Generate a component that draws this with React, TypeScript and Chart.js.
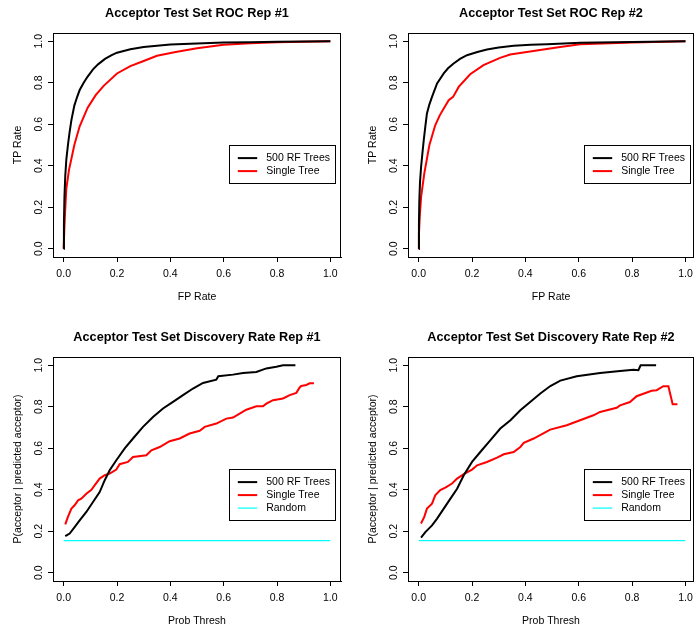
import React, { useEffect, useRef } from 'react';
import { Chart, registerables } from 'chart.js';

Chart.register(...registerables);

const FONT = "'Liberation Sans', Arial, Helvetica, sans-serif";

// ---------- shared labels / ticks ----------
const tickValues = [0, 0.2, 0.4, 0.6, 0.8, 1.0];
const seriesNames = ['500 RF Trees', 'Single Tree', 'Random'];

// ---------- ROC Rep #1 ----------
const roc1ForestFpr = [0, 0.001, 0.003, 0.006, 0.010, 0.016, 0.022, 0.029, 0.040, 0.050, 0.060, 0.075, 0.090, 0.110, 0.130, 0.155, 0.180, 0.200, 0.250, 0.300, 0.400, 0.500, 0.600, 0.700, 0.800, 1.000];
const roc1ForestTpr = [0, 0.12, 0.25, 0.35, 0.43, 0.50, 0.56, 0.62, 0.69, 0.73, 0.765, 0.80, 0.83, 0.865, 0.89, 0.915, 0.933, 0.945, 0.962, 0.972, 0.984, 0.989, 0.994, 0.996, 0.998, 1.0];
const roc1TreeFpr = [0, 0.002, 0.005, 0.010, 0.020, 0.030, 0.040, 0.060, 0.080, 0.090, 0.120, 0.150, 0.200, 0.250, 0.300, 0.350, 0.420, 0.500, 0.600, 0.700, 0.800, 1.000];
const roc1TreeTpr = [0, 0.08, 0.17, 0.29, 0.38, 0.44, 0.50, 0.59, 0.65, 0.68, 0.74, 0.785, 0.845, 0.88, 0.905, 0.93, 0.948, 0.966, 0.983, 0.99, 0.995, 1.0];

// ---------- ROC Rep #2 ----------
const roc2ForestFpr = [0, 0.001, 0.0025, 0.005, 0.009, 0.014, 0.019, 0.025, 0.031, 0.040, 0.050, 0.069, 0.094, 0.110, 0.131, 0.155, 0.181, 0.220, 0.256, 0.300, 0.356, 0.420, 0.481, 0.606, 0.800, 1.000];
const roc2ForestTpr = [0, 0.12, 0.233, 0.32, 0.394, 0.46, 0.523, 0.59, 0.652, 0.695, 0.732, 0.797, 0.845, 0.87, 0.893, 0.915, 0.933, 0.948, 0.96, 0.97, 0.978, 0.983, 0.986, 0.993, 0.997, 1.0];
const roc2TreeFpr = [0, 0.001, 0.004, 0.009, 0.021, 0.040, 0.062, 0.079, 0.094, 0.1125, 0.129, 0.150, 0.193, 0.243, 0.305, 0.343, 0.430, 0.530, 0.606, 0.800, 1.000];
const roc2TreeTpr = [0, 0.07, 0.153, 0.249, 0.362, 0.499, 0.595, 0.643, 0.676, 0.716, 0.732, 0.78, 0.841, 0.885, 0.92, 0.936, 0.953, 0.973, 0.986, 0.994, 1.0];

// ---------- Discovery Rate Rep #1 ----------
const dr1ForestThresh = [0.006, 0.0225, 0.041, 0.060, 0.085, 0.110, 0.135, 0.154, 0.1725, 0.1975, 0.229, 0.260, 0.2975, 0.335, 0.3725, 0.410, 0.4475, 0.485, 0.5225, 0.5725, 0.580, 0.635, 0.6725, 0.7225, 0.760, 0.7975, 0.8225, 0.869];
const dr1ForestPrec = [0.176, 0.189, 0.22, 0.252, 0.293, 0.341, 0.389, 0.446, 0.494, 0.542, 0.599, 0.647, 0.703, 0.751, 0.792, 0.824, 0.856, 0.888, 0.915, 0.931, 0.947, 0.955, 0.963, 0.968, 0.985, 0.993, 1.0, 1.0];
const dr1TreeThresh = [0.006, 0.016, 0.029, 0.041, 0.054, 0.066, 0.085, 0.104, 0.116, 0.135, 0.154, 0.1725, 0.1975, 0.21, 0.241, 0.26, 0.31, 0.329, 0.36, 0.3975, 0.435, 0.4725, 0.51, 0.529, 0.5725, 0.61, 0.635, 0.66, 0.685, 0.7225, 0.7475, 0.76, 0.785, 0.8225, 0.8475, 0.8725, 0.885, 0.891, 0.91, 0.9225, 0.9385];
const dr1TreePrec = [0.233, 0.269, 0.309, 0.325, 0.349, 0.357, 0.381, 0.40, 0.421, 0.454, 0.47, 0.478, 0.497, 0.523, 0.534, 0.558, 0.566, 0.59, 0.606, 0.634, 0.647, 0.671, 0.684, 0.703, 0.719, 0.743, 0.748, 0.767, 0.786, 0.802, 0.802, 0.815, 0.832, 0.84, 0.856, 0.867, 0.893, 0.90, 0.905, 0.913, 0.913];

// ---------- Discovery Rate Rep #2 ----------
const dr2ForestThresh = [0.0088, 0.025, 0.05, 0.069, 0.094, 0.119, 0.144, 0.169, 0.20, 0.231, 0.269, 0.306, 0.344, 0.381, 0.419, 0.456, 0.4935, 0.531, 0.5925, 0.68, 0.755, 0.805, 0.8236, 0.832, 0.89];
const dr2ForestPrec = [0.169, 0.196, 0.228, 0.261, 0.309, 0.357, 0.405, 0.47, 0.534, 0.582, 0.639, 0.695, 0.735, 0.783, 0.824, 0.864, 0.90, 0.926, 0.947, 0.963, 0.973, 0.979, 0.976, 1.0, 1.0];
const dr2TreeThresh = [0.0088, 0.021, 0.031, 0.05, 0.062, 0.081, 0.10, 0.125, 0.144, 0.169, 0.20, 0.219, 0.256, 0.294, 0.319, 0.356, 0.381, 0.394, 0.431, 0.493, 0.555, 0.605, 0.655, 0.68, 0.742, 0.755, 0.792, 0.817, 0.873, 0.892, 0.917, 0.936, 0.952, 0.97];
const dr2TreePrec = [0.237, 0.269, 0.309, 0.333, 0.373, 0.398, 0.41, 0.43, 0.454, 0.475, 0.497, 0.518, 0.534, 0.555, 0.571, 0.582, 0.606, 0.626, 0.647, 0.69, 0.711, 0.735, 0.759, 0.775, 0.795, 0.807, 0.823, 0.851, 0.877, 0.88, 0.899, 0.899, 0.812, 0.812];

// ---------- Random baseline ----------
const randomThresh = [0, 1];
const randomPrec = [0.155, 0.155];

// ---------- styling ----------
const COLORS = ['#000000', '#ff0000', '#00ffff'];
const WIDTHS = [2, 2, 1.2];

type Series = { label: string; xs: number[]; ys: number[]; color: string; width: number };

const boxPlugin = {
  id: 'rBox',
  afterDraw(chart: any) {
    const { ctx, chartArea } = chart;
    ctx.save();
    ctx.strokeStyle = '#000';
    ctx.lineWidth = 1;
    const l = Math.round(chartArea.left) + 0.5;
    const t = Math.round(chartArea.top) + 0.5;
    const r = Math.round(chartArea.right) - 0.5;
    const b = Math.round(chartArea.bottom) + 0.5;
    ctx.strokeRect(l, t, r - l, b - t);
    ctx.restore();
  },
};

const legendPlugin = {
  id: 'rLegend',
  afterDraw(chart: any, _args: any, opts: any) {
    const items = opts.items as { label: string; color: string; width: number }[];
    if (!items || !items.length) return;
    const { ctx } = chart;
    const xs = chart.scales.x;
    const ys = chart.scales.y;
    const x0 = Math.round(xs.getPixelForValue(opts.anchorX)) + 0.5;
    const y0 = Math.round(ys.getPixelForValue(opts.anchorY)) + 0.5;
    const w = 106;
    const rowH = 13;
    const h = items.length * rowH + 12;
    ctx.save();
    ctx.fillStyle = '#fff';
    ctx.fillRect(x0, y0, w, h);
    ctx.strokeStyle = '#000';
    ctx.lineWidth = 1;
    ctx.strokeRect(x0, y0, w, h);
    ctx.font = `10.5px ${FONT}`;
    ctx.textBaseline = 'middle';
    ctx.textAlign = 'left';
    items.forEach((it, i) => {
      const cy = y0 + 12.6 + i * rowH;
      ctx.strokeStyle = it.color;
      ctx.lineWidth = it.width;
      ctx.beginPath();
      ctx.moveTo(x0 + 8.3, cy);
      ctx.lineTo(x0 + 27.7, cy);
      ctx.stroke();
      ctx.fillStyle = '#000';
      ctx.fillText(it.label, x0 + 36.7, cy + 0.5);
    });
    ctx.restore();
  },
};

const PANEL_W = 355;
const PANEL_H = 324;

function Panel(props: { left: number; top: number; title: string; xTitle: string; yTitle: string; series: Series[]; xMax: number; padRight: number }) {
  const ref = useRef<HTMLCanvasElement>(null);
  const { left, top, title, xTitle, yTitle, series, xMax, padRight } = props;
  useEffect(() => {
    const tickFont = { family: FONT, size: 10.5, lineHeight: 1.2 };
    const chart = new Chart(ref.current as HTMLCanvasElement, {
      type: 'line',
      data: {
        datasets: series.map((s) => ({
          label: s.label,
          data: s.xs.map((x, i) => ({ x, y: s.ys[i] })),
          borderColor: s.color,
          backgroundColor: s.color,
          borderWidth: s.width,
          pointRadius: 0,
          tension: 0,
          fill: false,
        })),
      },
      options: {
        responsive: false,
        animation: false,
        devicePixelRatio: 1,
        layout: { padding: { left: 0, right: padRight, top: 0, bottom: 0 } },
        plugins: {
          legend: { display: false },
          tooltip: { enabled: false },
          title: {
            display: true,
            text: title,
            fullSize: false,
            color: '#000',
            font: { family: FONT, size: 12.7, weight: 'bold', lineHeight: 1.2 },
            padding: { top: 5.7, bottom: 12.06 },
          },
          rLegend: {
            anchorX: 0.62,
            anchorY: 0.5,
            items: series.map((s) => ({ label: s.label, color: s.color, width: s.width })),
          },
        } as any,
        scales: {
          x: {
            type: 'linear',
            position: 'bottom',
            min: -0.04,
            max: xMax,
            afterBuildTicks: (s: any) => {
              s.ticks = tickValues.map((v) => ({ value: v }));
            },
            afterFit: (s: any) => {
              s.height = 67;
            },
            grid: { display: true, drawOnChartArea: false, drawTicks: true, tickLength: 5, color: '#000', tickColor: '#000', lineWidth: 1 },
            border: { display: true, color: '#000', width: 1 },
            ticks: {
              autoSkip: false,
              maxRotation: 0,
              minRotation: 0,
              padding: 6,
              color: '#000',
              font: tickFont,
              callback: (v: any) => Number(v).toFixed(1),
            },
            title: { display: true, text: xTitle, color: '#000', font: tickFont, padding: { top: 0, bottom: 21 } },
          },
          y: {
            type: 'linear',
            position: 'left',
            min: -0.04,
            max: 1.04,
            afterBuildTicks: (s: any) => {
              s.ticks = tickValues.map((v) => ({ value: v }));
            },
            afterFit: (s: any) => {
              s.width = 53;
            },
            grid: { display: true, drawOnChartArea: false, drawTicks: true, tickLength: 5, color: '#000', tickColor: '#000', lineWidth: 1 },
            border: { display: true, color: '#000', width: 1 },
            ticks: {
              autoSkip: false,
              minRotation: 90,
              maxRotation: 90,
              crossAlign: 'center',
              padding: 2,
              color: '#000',
              font: tickFont,
              callback: (v: any) => Number(v).toFixed(1),
            },
            title: { display: true, text: yTitle, color: '#000', font: tickFont, padding: { top: 12, bottom: 0 } },
          },
        },
      } as any,
      plugins: [boxPlugin, legendPlugin],
    });
    return () => chart.destroy();
  }, []);
  return (
    <canvas
      ref={ref}
      width={PANEL_W}
      height={PANEL_H}
      style={{ position: 'absolute', left, top, width: PANEL_W, height: PANEL_H, display: 'block' }}
    />
  );
}

const mk = (i: number, xs: number[], ys: number[]): Series => ({ label: seriesNames[i], xs, ys, color: COLORS[i], width: WIDTHS[i] });

export default function App() {
  return (
    <div style={{ position: 'fixed', left: 0, top: 0, width: 694, height: 631, overflow: 'hidden', background: '#fff' }}>
      <Panel left={0} top={0} xMax={1.04} padRight={14} title="Acceptor Test Set ROC Rep #1" xTitle="FP Rate" yTitle="TP Rate"
        series={[mk(0, roc1ForestFpr, roc1ForestTpr), mk(1, roc1TreeFpr, roc1TreeTpr)]} />
      <Panel left={PANEL_W} top={0} xMax={1.032} padRight={16} title="Acceptor Test Set ROC Rep #2" xTitle="FP Rate" yTitle="TP Rate"
        series={[mk(0, roc2ForestFpr, roc2ForestTpr), mk(1, roc2TreeFpr, roc2TreeTpr)]} />
      <Panel left={0} top={PANEL_H} xMax={1.04} padRight={14} title="Acceptor Test Set Discovery Rate Rep #1" xTitle="Prob Thresh" yTitle="P(acceptor | predicted acceptor)"
        series={[mk(0, dr1ForestThresh, dr1ForestPrec), mk(1, dr1TreeThresh, dr1TreePrec), mk(2, randomThresh, randomPrec)]} />
      <Panel left={PANEL_W} top={PANEL_H} xMax={1.032} padRight={16} title="Acceptor Test Set Discovery Rate Rep #2" xTitle="Prob Thresh" yTitle="P(acceptor | predicted acceptor)"
        series={[mk(0, dr2ForestThresh, dr2ForestPrec), mk(1, dr2TreeThresh, dr2TreePrec), mk(2, randomThresh, randomPrec)]} />
    </div>
  );
}
